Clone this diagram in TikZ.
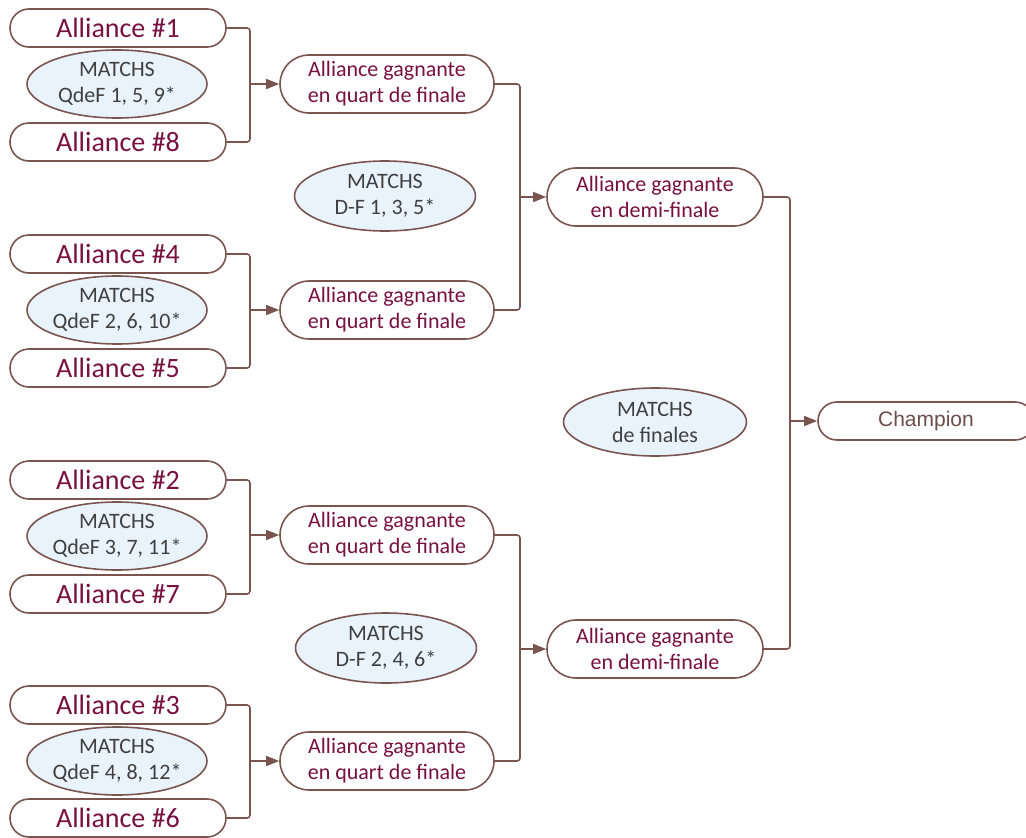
\documentclass[tikz,border=0pt]{standalone}
\usepackage{fontspec}
\setmainfont{Carlito}
\newfontfamily\arialf{Liberation Sans}
\usetikzlibrary{shapes.misc,shapes.geometric,arrows.meta}
\definecolor{bord}{RGB}{122,85,80}
\definecolor{maroon}{RGB}{120,16,64}
\definecolor{grayt}{RGB}{64,64,64}
\definecolor{efill}{RGB}{232,243,252}
\definecolor{champt}{RGB}{107,78,76}
\tikzset{
  allbox/.style={rounded rectangle, draw=bord, line width=1.6pt, fill=white,
    minimum width=216pt, minimum height=38pt, inner sep=0pt,
    text=maroon, font=\fontsize{28}{30}\selectfont},
  winbox/.style={rounded rectangle, draw=bord, line width=1.6pt, fill=white,
    minimum width=214pt, minimum height=58pt, inner sep=0pt, align=center,
    text=maroon, font=\fontsize{22}{26}\selectfont},
  champbox/.style={rounded rectangle, draw=bord, line width=1.6pt, fill=white,
    minimum width=216pt, minimum height=38pt, inner sep=0pt,
    text=champt, font=\arialf\fontsize{21}{24}\selectfont},
  matchell/.style={ellipse, draw=bord, line width=1.6pt, fill=efill,
    minimum width=180pt, minimum height=68pt, inner sep=0pt},
  etext/.style={align=center, text=grayt, font=\fontsize{22}{26}\selectfont, inner sep=0pt},
  conn/.style={draw=bord, line width=1.6pt, rounded corners=3pt},
  arr/.style={draw=bord, line width=1.6pt, -{Triangle[length=13pt,width=10pt]}, fill=bord},
}
\begin{document}
\begin{tikzpicture}[x=1pt,y=-1pt]
\useasboundingbox (0,0) rectangle (1026,838);
% column 1 alliances
\node[allbox] (a1) at (118,28) {Alliance \#1};
\node[allbox] (a8) at (118,142) {Alliance \#8};
\node[allbox] (a4) at (118,254) {Alliance \#4};
\node[allbox] (a5) at (118,368) {Alliance \#5};
\node[allbox] (a2) at (118,480) {Alliance \#2};
\node[allbox] (a7) at (118,594) {Alliance \#7};
\node[allbox] (a3) at (118,705) {Alliance \#3};
\node[allbox] (a6) at (118,818) {Alliance \#6};
% match ellipses QdeF
\node[matchell] (m1) at (117,84) {};
\node[etext] at (m1) {MATCHS\\QdeF 1, 5, 9*};
\node[matchell] (m2) at (117,310) {};
\node[etext] at (m2) {MATCHS\\QdeF 2, 6, 10*};
\node[matchell] (m3) at (117,536) {};
\node[etext] at (m3) {MATCHS\\QdeF 3, 7, 11*};
\node[matchell] (m4) at (117,761) {};
\node[etext] at (m4) {MATCHS\\QdeF 4, 8, 12*};
% quarter winners
\node[winbox] (q1) at (387,84) {Alliance gagnante\\en quart de finale};
\node[winbox] (q2) at (387,310) {Alliance gagnante\\en quart de finale};
\node[winbox] (q3) at (387,535) {Alliance gagnante\\en quart de finale};
\node[winbox] (q4) at (387,761) {Alliance gagnante\\en quart de finale};
% semi ellipses
\node[matchell, minimum width=181pt, minimum height=70pt] (d1) at (385,196) {};
\node[etext] at (d1) {MATCHS\\D-F 1, 3, 5*};
\node[matchell, minimum width=181pt, minimum height=70pt] (d2) at (386,648) {};
\node[etext] at (d2) {MATCHS\\D-F 2, 4, 6*};
% semi winners
\node[winbox, minimum width=216pt] (s1) at (655,197) {Alliance gagnante\\en demi-finale};
\node[winbox, minimum width=216pt] (s2) at (655,649) {Alliance gagnante\\en demi-finale};
% finals
\node[matchell, minimum width=183pt] (f) at (655,422) {};
\node[etext] at (f) {MATCHS\\de finales};
\node[champbox] (c) at (926,421) {Champion};
% junctions
\coordinate (j1) at (250,84);
\coordinate (j2) at (250,310);
\coordinate (j3) at (250,535);
\coordinate (j4) at (250,761);
\coordinate (k1) at (520,197);
\coordinate (k2) at (520,649);
\coordinate (l1) at (790,421);
% connectors
\draw[conn] (a1.east) -| (j1);
\draw[conn] (a8.east) -| (j1);
\draw[arr] (j1) -- (q1.west);
\draw[conn] (a4.east) -| (j2);
\draw[conn] (a5.east) -| (j2);
\draw[arr] (j2) -- (q2.west);
\draw[conn] (a2.east) -| (j3);
\draw[conn] (a7.east) -| (j3);
\draw[arr] (j3) -- (q3.west);
\draw[conn] (a3.east) -| (j4);
\draw[conn] (a6.east) -| (j4);
\draw[arr] (j4) -- (q4.west);
\draw[conn] (q1.east) -| (k1);
\draw[conn] (q2.east) -| (k1);
\draw[arr] (k1) -- (s1.west);
\draw[conn] (q3.east) -| (k2);
\draw[conn] (q4.east) -| (k2);
\draw[arr] (k2) -- (s2.west);
\draw[conn] (s1.east) -| (l1);
\draw[conn] (s2.east) -| (l1);
\draw[arr] (l1) -- (c.west);
\end{tikzpicture}
\end{document}
